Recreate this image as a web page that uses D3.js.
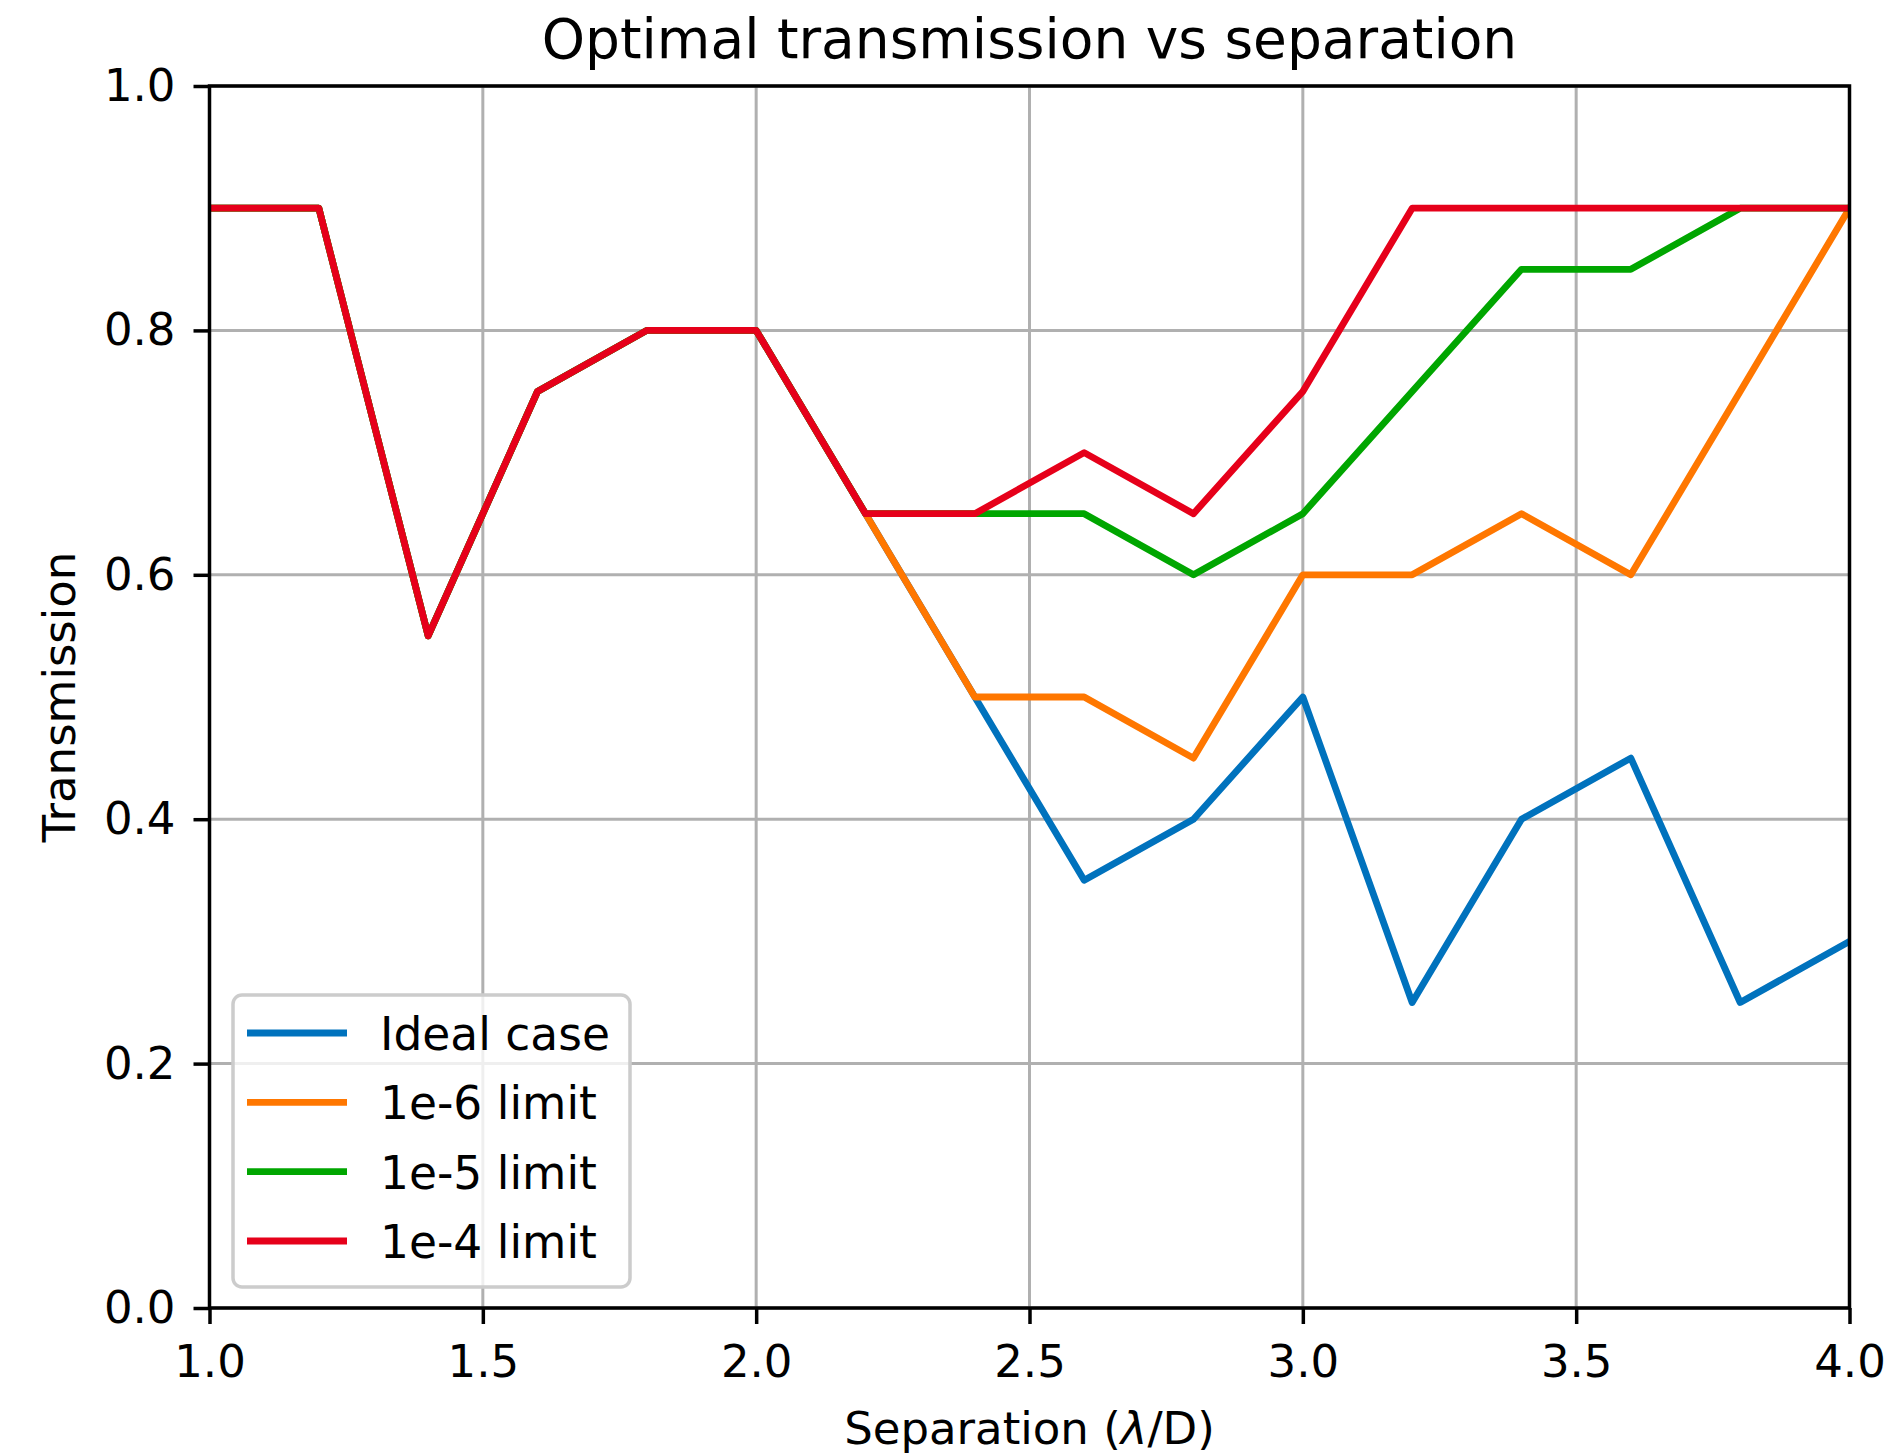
<!DOCTYPE html>
<html>
<head>
<meta charset="utf-8">
<script src="https://cdn.jsdelivr.net/npm/d3@7"></script>
<style>
  html, body { margin: 0; padding: 0; background: #fff; }
  svg { display: block; font-family: "DejaVu Sans", sans-serif; }
</style>
</head>
<body>
<svg id="chart" width="1900" height="1455"></svg>
<script>
// Separation in units of lambda/D
const separation = [1.0, 1.2, 1.4, 1.6, 1.8, 2.0, 2.2, 2.4, 2.6, 2.8, 3.0, 3.2, 3.4, 3.6, 3.8, 4.0];

// Optimal transmission for each contrast constraint
const idealCase = [0.9, 0.9, 0.55, 0.75, 0.8, 0.8, 0.65, 0.5, 0.35, 0.4, 0.5, 0.25, 0.4, 0.45, 0.25, 0.3];
const limit1e6  = [0.9, 0.9, 0.55, 0.75, 0.8, 0.8, 0.65, 0.5, 0.5, 0.45, 0.6, 0.6, 0.65, 0.6, 0.75, 0.9];
const limit1e5  = [0.9, 0.9, 0.55, 0.75, 0.8, 0.8, 0.65, 0.65, 0.65, 0.6, 0.65, 0.75, 0.85, 0.85, 0.9, 0.9];
const limit1e4  = [0.9, 0.9, 0.55, 0.75, 0.8, 0.8, 0.65, 0.65, 0.7, 0.65, 0.75, 0.9, 0.9, 0.9, 0.9, 0.9];

const seriesNames = ["Ideal case", "1e-6 limit", "1e-5 limit", "1e-4 limit"];
const seriesColors = ["#0072BD", "#FF7700", "#00A600", "#E6001A"];

const xTicks = [1.0, 1.5, 2.0, 2.5, 3.0, 3.5, 4.0];
const yTicks = [0.0, 0.2, 0.4, 0.6, 0.8, 1.0];

const series = [idealCase, limit1e6, limit1e5, limit1e4];

const margin = { left: 209.5, right: 1849.5, top: 86, bottom: 1308 };
const svg = d3.select("#chart");

const x = d3.scaleLinear().domain([1.0, 4.0]).range([margin.left, margin.right]);
const y = d3.scaleLinear().domain([0.0, 1.0]).range([margin.bottom, margin.top]);

const tickFont = 45;

// grid lines
const grid = svg.append("g").attr("class", "grid");
grid.selectAll("line.vx").data(xTicks).join("line")
  .attr("x1", d => x(d)).attr("x2", d => x(d))
  .attr("y1", margin.top).attr("y2", margin.bottom)
  .attr("stroke", "#b0b0b0").attr("stroke-width", 3);
grid.selectAll("line.hy").data(yTicks).join("line")
  .attr("x1", margin.left).attr("x2", margin.right)
  .attr("y1", d => y(d)).attr("y2", d => y(d))
  .attr("stroke", "#b0b0b0").attr("stroke-width", 3);

// clip region for the data lines
svg.append("defs").append("clipPath").attr("id", "plotClip")
  .append("rect")
  .attr("x", margin.left).attr("y", margin.top)
  .attr("width", margin.right - margin.left)
  .attr("height", margin.bottom - margin.top);

const line = d3.line()
  .x((d, i) => x(separation[i]))
  .y(d => y(d));

const lines = svg.append("g").attr("clip-path", "url(#plotClip)");
series.forEach((vals, k) => {
  lines.append("path")
    .datum(vals)
    .attr("d", line)
    .attr("fill", "none")
    .attr("stroke", seriesColors[k])
    .attr("stroke-width", 6.8)
    .attr("stroke-linejoin", "round")
    .attr("stroke-linecap", "square");
});

// axes
const xAxis = d3.axisBottom(x).tickValues(xTicks).tickFormat(d3.format(".1f"))
  .tickSize(16).tickSizeOuter(0).tickPadding(21);
const yAxis = d3.axisLeft(y).tickValues(yTicks).tickFormat(d3.format(".1f"))
  .tickSize(16).tickSizeOuter(0).tickPadding(18);

const gx = svg.append("g").attr("transform", `translate(0,${margin.bottom})`).call(xAxis);
const gy = svg.append("g").attr("transform", `translate(${margin.left},0)`).call(yAxis);

[gx, gy].forEach(g => {
  g.select(".domain").remove();
  g.selectAll(".tick line").attr("stroke", "#000").attr("stroke-width", 3.5);
  g.selectAll(".tick text").attr("fill", "#000")
    .style("font-size", tickFont + "px")
    .style("font-family", "'DejaVu Sans', sans-serif");
});

// frame
svg.append("rect")
  .attr("x", margin.left).attr("y", margin.top)
  .attr("width", margin.right - margin.left)
  .attr("height", margin.bottom - margin.top)
  .attr("fill", "none").attr("stroke", "#000").attr("stroke-width", 3.5)
  .attr("stroke-linejoin", "miter");

// title
svg.append("text")
  .attr("x", (margin.left + margin.right) / 2).attr("y", 58)
  .attr("text-anchor", "middle")
  .style("font-size", "55px")
  .text("Optimal transmission vs separation");

// x label
const xl = svg.append("text")
  .attr("x", (margin.left + margin.right) / 2).attr("y", 1444)
  .attr("text-anchor", "middle")
  .style("font-size", "45px");
xl.append("tspan").text("Separation (");
xl.append("tspan").style("font-style", "italic").text("λ");
xl.append("tspan").text("/D)");

// y label
svg.append("text")
  .attr("transform", `translate(75,${(margin.top + margin.bottom) / 2}) rotate(-90)`)
  .attr("text-anchor", "middle")
  .style("font-size", "45px")
  .text("Transmission");

// legend
const legend = svg.append("g");
legend.append("rect")
  .attr("x", 233).attr("y", 995).attr("width", 397).attr("height", 292)
  .attr("rx", 9).attr("ry", 9)
  .attr("fill", "#fff").attr("fill-opacity", 0.8)
  .attr("stroke", "#cccccc").attr("stroke-width", 3.5);

const rowY = d3.scaleLinear().domain([0, 3]).range([1033, 1241]);
seriesNames.forEach((name, k) => {
  legend.append("line")
    .attr("x1", 247).attr("x2", 347)
    .attr("y1", rowY(k)).attr("y2", rowY(k))
    .attr("stroke", seriesColors[k]).attr("stroke-width", 6.8);
  legend.append("text")
    .attr("x", 380).attr("y", rowY(k) + 17)
    .style("font-size", "45.5px")
    .text(name);
});
</script>
</body>
</html>
